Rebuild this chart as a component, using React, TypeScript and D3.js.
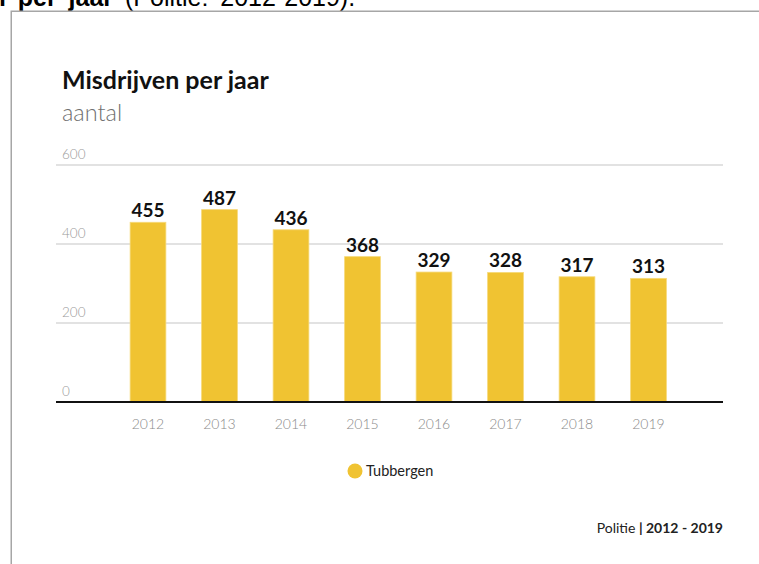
import React from "react";
import * as d3 from "d3";

const years = ["2012", "2013", "2014", "2015", "2016", "2017", "2018", "2019"];
const values = [455, 487, 436, 368, 329, 328, 317, 313];
const yTicks = [0, 200, 400, 600];
const seriesName = "Tubbergen";
const title = "Misdrijven per jaar";
const subtitle = "aantal";
const sourceName = "Politie";
const sourcePeriod = "2012 - 2019";

const W = 759;
const H = 564;
const FONT = "Lato, 'Noto Sans', sans-serif";
const BAR = "#F0C332";

export default function App() {
  const x = d3
    .scaleBand<string>()
    .domain(years)
    .range([112.25, 684.25])
    .paddingInner(0.5)
    .paddingOuter(0.25);
  const y = d3.scaleLinear().domain([0, 600]).range([402, 165]);
  const gridX1 = 56;
  const gridX2 = 723;

  return (
    <div style={{ position: "absolute", left: 0, top: 0 }}>
      <svg width={W} height={H} style={{ display: "block" }}>
        <rect width={W} height={H} fill="#fff" />
        {/* clipped page heading above the frame */}
        <text
          x={-9.5}
          y={6}
          fontFamily="'Liberation Sans', Arial, sans-serif"
          fontSize={25}
          fill="#000"
          style={{ wordSpacing: "5px" }}
        >
          <tspan fontWeight="bold">n per jaar</tspan>
          <tspan> (Politie: 2012-2019).</tspan>
        </text>
        {/* frame */}
        <path d={`M11.25,${H + 5} V11.25 H${W + 5}`} fill="none" stroke="#a6a6a6" strokeWidth={1.5} />

        <text x={62} y={89} fontFamily={FONT} fontWeight={700} fontSize={25} fill="#111">
          {title}
        </text>
        <text x={62} y={121} fontFamily={FONT} fontWeight={300} fontSize={23.5} fill="#707070">
          {subtitle}
        </text>

        {yTicks.map((t) => (
          <g key={t}>
            {t !== 0 && (
              <line x1={gridX1} x2={gridX2} y1={y(t)} y2={y(t)} stroke="#d9d9d9" strokeWidth={1.5} />
            )}
            <text x={62} y={y(t) - 6} fontFamily={FONT} fontWeight={300} fontSize={13.5} fill="#9a9a9a">
              {t}
            </text>
          </g>
        ))}

        {years.map((yr, i) => {
          const v = values[i];
          const bx = x(yr)!;
          const bw = x.bandwidth();
          return (
            <g key={yr}>
              <rect x={bx} y={y(v)} width={bw} height={y(0) - y(v)} fill={BAR} stroke="#f6d978" strokeWidth={0.8} />
              <text
                x={bx + bw / 2}
                y={y(v) - 5}
                textAnchor="middle"
                fontFamily={FONT}
                fontWeight={700}
                fontSize={19}
                fill="#111"
              >
                {v}
              </text>
              <text
                x={bx + bw / 2}
                y={429}
                textAnchor="middle"
                fontFamily={FONT}
                fontWeight={300}
                fontSize={14}
                fill="#8a8a8a"
              >
                {yr}
              </text>
            </g>
          );
        })}

        <line x1={gridX1} x2={gridX2} y1={y(0)} y2={y(0)} stroke="#111" strokeWidth={2} />

        {/* legend */}
        <circle cx={355} cy={471} r={7.5} fill={BAR} />
        <text x={366} y={476} fontFamily={FONT} fontSize={14.5} fill="#222">
          {seriesName}
        </text>

        {/* source */}
        <text x={723} y={533} textAnchor="end" fontFamily={FONT} fontSize={14} fill="#222">
          <tspan>{sourceName} </tspan>
          <tspan fontWeight={700}>| {sourcePeriod}</tspan>
        </text>
      </svg>
    </div>
  );
}
